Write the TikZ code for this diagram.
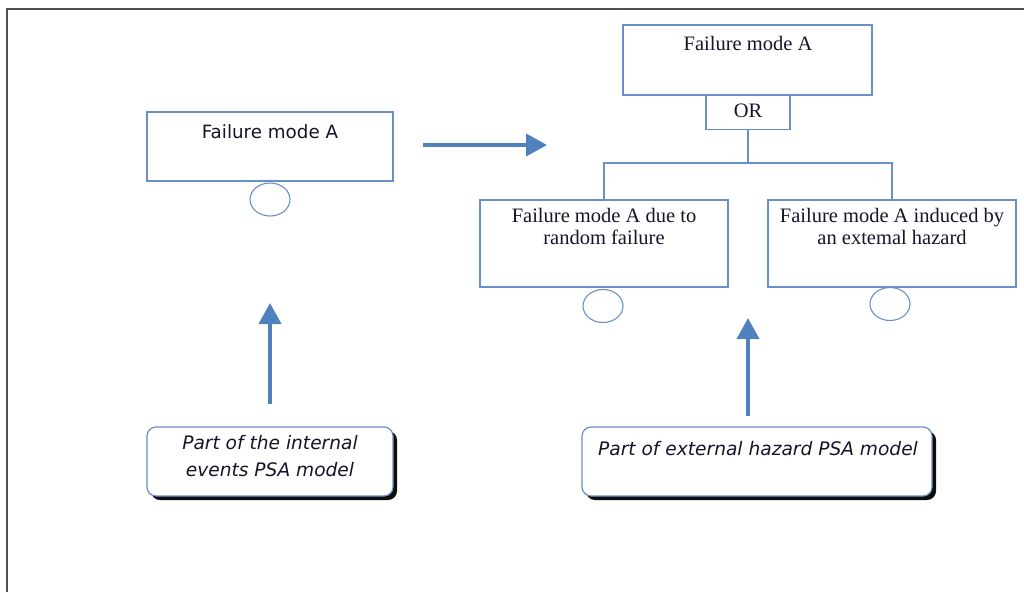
\documentclass[tikz,border=0pt]{standalone}
\usepackage{fontspec}
\usetikzlibrary{arrows.meta,shadows,shapes.geometric}
\newfontfamily\boxsans{DejaVu Sans}
\newfontfamily\boxserif{Liberation Serif}
\definecolor{edgeblue}{HTML}{6A8FC8}
\definecolor{arrowblue}{HTML}{4F81BD}
\definecolor{framegray}{HTML}{505050}
\definecolor{inkdark}{HTML}{15152A}
\tikzset{
  x=1pt, y=-1pt,
  fmbox/.style={draw=edgeblue, line width=1.2pt, fill=white, inner sep=0pt},
  gate/.style={draw=edgeblue, line width=1.2pt, fill=white, inner sep=0pt, minimum width=84pt, minimum height=34pt},
  basic/.style={draw=edgeblue, line width=1.1pt, ellipse, inner sep=0pt, minimum width=40pt, minimum height=33pt},
  serftext/.style={align=center, anchor=base, inner sep=0pt, text=inkdark, font=\boxserif\fontsize{20.5}{21.5}\selectfont},
  sanstext/.style={align=center, anchor=base, inner sep=0pt, text=inkdark, font=\boxsans\fontsize{18.3}{21}\selectfont},
  psabox/.style={draw=edgeblue, line width=1.2pt, fill=white, rounded corners=9pt, inner sep=0pt,
    drop shadow={shadow xshift=4pt, shadow yshift=-4pt, fill=black, opacity=0.95}},
  psatext/.style={align=center, anchor=base, inner sep=0pt, text=inkdark, font=\boxsans\itshape\fontsize{18.6}{27}\selectfont},
  tree/.style={draw=edgeblue, line width=1.2pt},
  bigarrow/.style={draw=arrowblue, line width=4pt, -{Triangle[width=22pt,length=21pt]}}
}
\begin{document}
\begin{tikzpicture}
\useasboundingbox (0,0) rectangle (1024,592);
% outer frame (top and left edges)
\draw[framegray, line width=2pt] (7,592) -- (7,9) -- (1024,9);

% internal events model: single failure mode
\node[fmbox, minimum width=246pt, minimum height=69pt] (fmL) at (270,146.5) {};
\node[sanstext] (fmLt) at (270,138) {Failure mode A};
\node[basic] (evL) at (270,199.5) {};

% external hazard model: OR gate with two inputs
\node[fmbox, minimum width=249pt, minimum height=70pt] (top) at (747.5,60) {};
\node[serftext] (topt) at (748,50) {Failure mode A};
\node[gate, anchor=north] (or) at (748,95) {};
\node[serftext] (ort) at (748,117) {OR};

% multi-line labels are placed by the baseline of their last line
\node[fmbox, minimum width=248pt, minimum height=87pt] (c1) at (604,243.5) {};
\node[serftext] (c1t) at (604,244) {Failure mode A due to\\random failure};
\node[fmbox, minimum width=248pt, minimum height=87pt] (c2) at (892,243.5) {};
\node[serftext] (c2t) at (892,244) {Failure mode A induced by\\an extemal hazard};
\node[basic] (ev1) at (603,306) {};
\node[basic] (ev2) at (890,304) {};

\coordinate (bus) at (748,163);
\draw[tree] (or.south) -- (bus);
\draw[tree] (c1.north) |- (bus) -| (c2.north);

% transition arrow
\coordinate (hA) at (423,145);
\coordinate (hB) at (547,145);
\draw[bigarrow] (hA) -- (hB);

% model labels with arrows
\node[psabox, minimum width=246pt, minimum height=69pt] (pL) at (270,461.5) {};
\node[psatext] (pLt) at (270,476) {Part of the internal\\events PSA model};
\node[psabox, minimum width=350pt, minimum height=69pt] (pR) at (757,461.5) {};
\node[psatext] (pRt) at (758,455) {Part of external hazard PSA model};

\coordinate (aL0) at (270,404);
\coordinate (aL1) at (270,303);
\coordinate (aR0) at (748,416);
\coordinate (aR1) at (748,318);
\draw[bigarrow] (aL0) -- (aL1);
\draw[bigarrow] (aR0) -- (aR1);
\end{tikzpicture}
\end{document}
